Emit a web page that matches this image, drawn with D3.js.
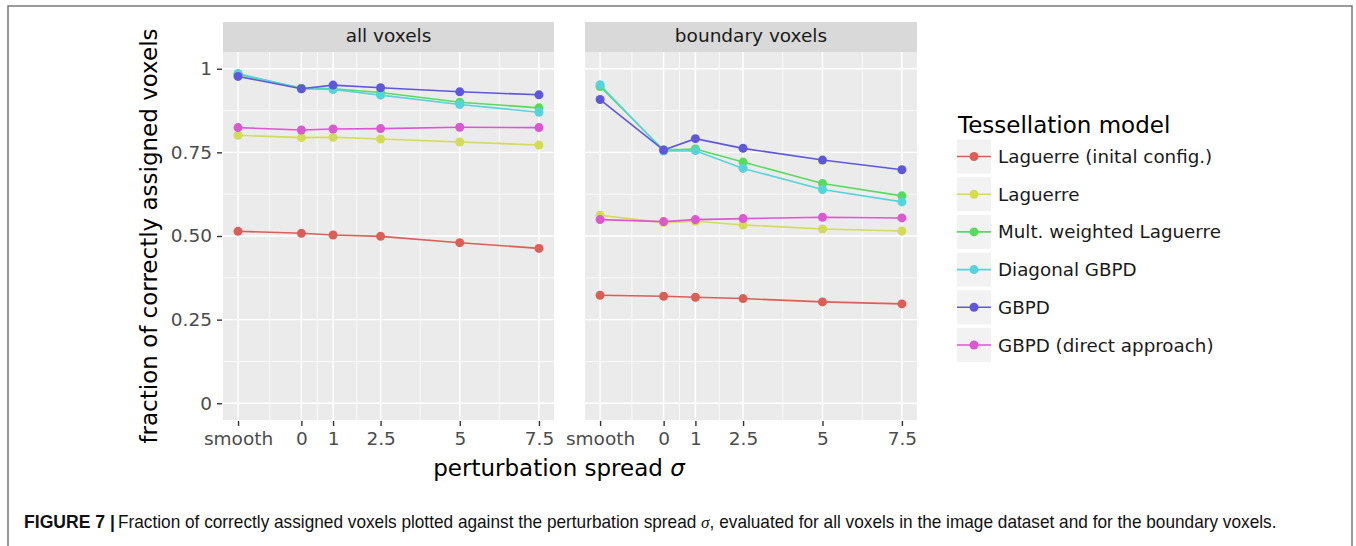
<!DOCTYPE html>
<html><head><meta charset="utf-8">
<script src="https://cdn.jsdelivr.net/npm/d3@7"></script>
<style>
html,body{margin:0;padding:0;background:#fff;}
svg{display:block;}
</style></head>
<body>
<svg id="chart" width="1356" height="546"></svg>
<script>
// ---------- data ----------
const xLabels = ["smooth", "0", "1", "2.5", "5", "7.5"];
const xValues = [-2, 0, 1, 2.5, 5, 7.5];
const yTicks = [0, 0.25, 0.5, 0.75, 1];
const yTickLabels = ["0", "0.25", "0.50", "0.75", "1"];
const panels = ["all voxels", "boundary voxels"];
const models = ["Laguerre (inital config.)", "Laguerre", "Mult. weighted Laguerre",
                "Diagonal GBPD", "GBPD", "GBPD (direct approach)"];
const colors = ["#db5f57", "#d3db57", "#57db5f", "#57d3db", "#5f57db", "#db57d3"];

// rows follow the order of `models`
const allVoxels = [
  [0.514, 0.508, 0.503, 0.499, 0.480, 0.463],
  [0.801, 0.794, 0.795, 0.790, 0.781, 0.772],
  [0.983, 0.942, 0.940, 0.929, 0.900, 0.883],
  [0.986, 0.940, 0.938, 0.921, 0.893, 0.870],
  [0.977, 0.940, 0.951, 0.943, 0.931, 0.922],
  [0.824, 0.817, 0.820, 0.821, 0.825, 0.824]
];
const boundaryVoxels = [
  [0.323, 0.320, 0.317, 0.313, 0.303, 0.297],
  [0.562, 0.540, 0.544, 0.533, 0.521, 0.515],
  [0.947, 0.757, 0.760, 0.721, 0.657, 0.620],
  [0.952, 0.754, 0.755, 0.702, 0.639, 0.602],
  [0.908, 0.757, 0.791, 0.762, 0.727, 0.698],
  [0.549, 0.543, 0.549, 0.552, 0.556, 0.554]
];
const panelData = [allVoxels, boundaryVoxels];

// ---------- layout ----------
const svg = d3.select("#chart");
const FONT = "'DejaVu Sans', Verdana, sans-serif";
const panelX = [[223, 554], [585, 917]];
const stripTop = 22, panelTop = 52, panelBottom = 420;

// outer frame
svg.append("rect").attr("x", 8).attr("y", 6).attr("width", 1344).attr("height", 560)
  .attr("fill", "none").attr("stroke", "#7a7a7a").attr("stroke-width", 1.5);

const y = d3.scaleLinear().domain([-0.05, 1.05]).range([panelBottom, panelTop]);
const yMinor = [0.125, 0.375, 0.625, 0.875];
const xMinor = [-1, 0.5, 1.75, 3.75, 6.25];

panels.forEach((pname, pi) => {
  const [x0, x1] = panelX[pi];
  const x = d3.scaleLinear().domain([-2.475, 7.975]).range([x0, x1]);
  const g = svg.append("g");

  // strip
  g.append("rect").attr("x", x0).attr("y", stripTop).attr("width", x1 - x0)
    .attr("height", panelTop - stripTop).attr("fill", "#d9d9d9");
  g.append("text").attr("x", (x0 + x1) / 2).attr("y", 42).attr("text-anchor", "middle")
    .attr("font-family", FONT).attr("font-size", 18.5).attr("fill", "#1a1a1a").text(pname);

  // panel background
  g.append("rect").attr("x", x0).attr("y", panelTop).attr("width", x1 - x0)
    .attr("height", panelBottom - panelTop).attr("fill", "#ebebeb");

  // minor grid
  g.selectAll(".ymin").data(yMinor).join("line")
    .attr("x1", x0).attr("x2", x1).attr("y1", d => y(d)).attr("y2", d => y(d))
    .attr("stroke", "#fff").attr("stroke-width", 0.7);
  g.selectAll(".xmin").data(xMinor).join("line")
    .attr("y1", panelTop).attr("y2", panelBottom).attr("x1", d => x(d)).attr("x2", d => x(d))
    .attr("stroke", "#fff").attr("stroke-width", 0.7);
  // major grid
  g.selectAll(".ymaj").data(yTicks).join("line")
    .attr("x1", x0).attr("x2", x1).attr("y1", d => y(d)).attr("y2", d => y(d))
    .attr("stroke", "#fff").attr("stroke-width", 1.4);
  g.selectAll(".xmaj").data(xValues).join("line")
    .attr("y1", panelTop).attr("y2", panelBottom).attr("x1", d => x(d)).attr("x2", d => x(d))
    .attr("stroke", "#fff").attr("stroke-width", 1.4);

  // x axis
  const xAxis = d3.axisBottom(x).tickValues(xValues)
    .tickFormat((d, i) => xLabels[i]).tickSize(5).tickPadding(6);
  const xg = svg.append("g").attr("transform", `translate(0,${panelBottom + 1})`).call(xAxis);
  xg.select(".domain").remove();
  xg.selectAll("line").attr("stroke", "#333").attr("stroke-width", 1.4);
  xg.selectAll("text").attr("font-family", FONT).attr("font-size", 18.5).attr("fill", "#4d4d4d");

  // y axis (left panel only)
  if (pi === 0) {
    const yAxis = d3.axisLeft(y).tickValues(yTicks)
      .tickFormat((d, i) => yTickLabels[i]).tickSize(5).tickPadding(5);
    const yg = svg.append("g").attr("transform", `translate(${x0 - 1},0)`).call(yAxis);
    yg.select(".domain").remove();
    yg.selectAll("line").attr("stroke", "#333").attr("stroke-width", 1.4);
    yg.selectAll("text").attr("font-family", FONT).attr("font-size", 18.5).attr("fill", "#4d4d4d");
  }

  // series
  const line = d3.line().x((d, i) => x(xValues[i])).y(d => y(d));
  panelData[pi].forEach((vals, si) => {
    g.append("path").attr("d", line(vals)).attr("fill", "none")
      .attr("stroke", colors[si]).attr("stroke-width", 1.6);
  });
  panelData[pi].forEach((vals, si) => {
    g.selectAll(null).data(vals).join("circle")
      .attr("cx", (d, i) => x(xValues[i])).attr("cy", d => y(d)).attr("r", 4.5)
      .attr("fill", colors[si]);
  });
});

// axis titles
svg.append("text").attr("transform", "translate(157,236) rotate(-90)")
  .attr("text-anchor", "middle").attr("font-family", FONT).attr("font-size", 23)
  .attr("fill", "#000").text("fraction of correctly assigned voxels");
const xt = svg.append("text").attr("x", 559).attr("y", 476).attr("text-anchor", "middle")
  .attr("font-family", FONT).attr("font-size", 23).attr("fill", "#000");
xt.append("tspan").text("perturbation spread ");
xt.append("tspan").attr("font-style", "italic").text("σ");

// legend
const lg = svg.append("g");
lg.append("text").attr("x", 958).attr("y", 133).attr("font-family", FONT)
  .attr("font-size", 23).attr("fill", "#000").text("Tessellation model");
models.forEach((m, i) => {
  const cy = 156.5 + i * 37.7;
  lg.append("rect").attr("x", 957).attr("y", cy - 17).attr("width", 34).attr("height", 34)
    .attr("fill", "#f2f2f2");
  lg.append("line").attr("x1", 957).attr("x2", 991).attr("y1", cy).attr("y2", cy)
    .attr("stroke", colors[i]).attr("stroke-width", 1.6);
  lg.append("circle").attr("cx", 974).attr("cy", cy).attr("r", 4.5).attr("fill", colors[i]);
  lg.append("text").attr("x", 998).attr("y", cy + 6.5).attr("font-family", FONT)
    .attr("font-size", 18.3).attr("fill", "#1a1a1a").text(m);
});

// caption (condensed by horizontal scaling to the measured width)
const CAP = "'Liberation Sans', Arial, sans-serif";
function fitText(sel, x0, targetW) {
  const w = sel.node().getComputedTextLength();
  sel.attr("transform", `translate(${x0},528) scale(${targetW / w},1)`);
}
const capB = svg.append("text").attr("x", 0).attr("y", 0).attr("font-family", CAP)
  .attr("font-size", 17.5).attr("font-weight", "bold").attr("fill", "#111").text("FIGURE 7 |");
fitText(capB, 24, 91);
const cap = svg.append("text").attr("x", 0).attr("y", 0).attr("font-family", CAP)
  .attr("font-size", 17.5).attr("fill", "#111");
cap.append("tspan").text("Fraction of correctly assigned voxels plotted against the perturbation spread ");
cap.append("tspan").attr("font-family", "'Liberation Serif', serif").attr("font-style", "italic").text("σ");
cap.append("tspan").text(", evaluated for all voxels in the image dataset and for the boundary voxels.");
fitText(cap, 118, 1159);
</script>
</body></html>
